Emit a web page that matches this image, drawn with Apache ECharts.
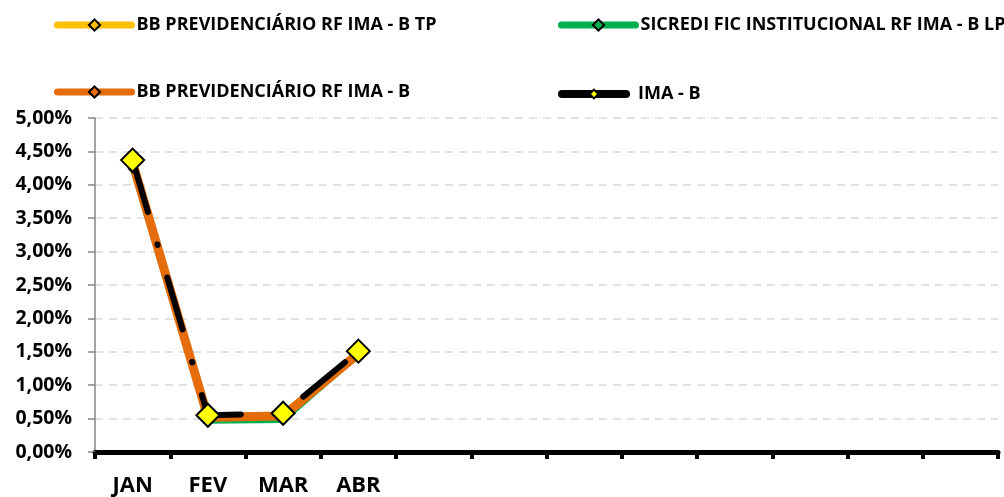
<!DOCTYPE html>
<html>
<head>
<meta charset="utf-8">
<script src="https://cdn.jsdelivr.net/npm/echarts@6/dist/echarts.min.js"></script>
<style>
html,body{margin:0;padding:0;background:#fff;}
#c{width:1004px;height:497px;}
</style>
</head>
<body>
<div id="c"></div>
<script>
var categories = ['JAN','FEV','MAR','ABR','MAI','JUN','JUL','AGO','SET','OUT','NOV','DEZ'];
var tickLabels = ['JAN','FEV','MAR','ABR','','','','','','','',''];
var bbTP = [4.35, 0.52, 0.55, 1.50];
var sicredi = [4.24, 0.46, 0.47, 1.45];
var bbIMAB = [4.33, 0.52, 0.54, 1.47];
var imaB = [4.37, 0.55, 0.58, 1.51];
var seriesNames = ['BB PREVIDENCIÁRIO RF IMA - B TP','SICREDI FIC INSTITUCIONAL RF IMA - B LP','BB PREVIDENCIÁRIO RF IMA - B','IMA - B'];

var FONT = 'Open Sans';
var chart = echarts.init(document.getElementById('c'));

function legendFor(name, left, top, w, h, lw, gap){
  return {
    data:[name], left:left, top:top, itemWidth:w, itemHeight:h, itemGap:gap,
    padding:0,
    textStyle:{fontFamily:FONT, fontWeight:'bold', fontSize:18, color:'#000', padding:[0,0,0,gap-5]},
    lineStyle:{type:'solid', cap:'round', width:lw},
    selectedMode:false
  };
}

chart.setOption({
  animation:false,
  legend:[
    legendFor(seriesNames[0], 54, 16, 74, 14, 7, 5),
    legendFor(seriesNames[1], 558, 16, 74, 14, 7, 5),
    legendFor(seriesNames[2], 54, 83, 74, 14, 7, 5),
    legendFor(seriesNames[3], 558, 85, 64, 11, 8, 12)
  ],
  grid:{left:95, right:6, top:118, bottom:45},
  xAxis:{
    type:'category', data:categories, boundaryGap:true,
    axisLine:{lineStyle:{color:'#000', width:5}},
    axisTick:{show:true, length:7, lineStyle:{color:'#000', width:4}},
    axisLabel:{interval:0, margin:23, fontFamily:FONT, fontWeight:'bold', fontSize:22, color:'#000',
      formatter:function(v, i){ return tickLabels[i]; }},
    splitLine:{show:false}
  },
  yAxis:{
    type:'value', min:0, max:5, interval:0.5,
    axisLine:{show:true, lineStyle:{color:'#868686', width:1.5}},
    axisTick:{show:true, length:7, lineStyle:{color:'#868686', width:1.5}},
    axisLabel:{margin:23, fontFamily:FONT, fontWeight:'bold', fontSize:19.5, color:'#000',
      formatter:function(v){ return v.toFixed(2).replace('.', ',') + '%'; }},
    splitLine:{show:true, lineStyle:{color:'#D9D9D9', width:1.5, type:[8,6]}}
  },
  series:[
    {name:seriesNames[0], type:'line', data:bbTP, symbol:'diamond', symbolSize:8,
      lineStyle:{color:'#FFC000', width:6, cap:'round', join:'round'},
      itemStyle:{color:'#FFC000', borderColor:'#000', borderWidth:1.5}},
    {name:seriesNames[1], type:'line', data:sicredi, symbol:'diamond', symbolSize:8,
      lineStyle:{color:'#00B050', width:5, cap:'round', join:'round'},
      itemStyle:{color:'#00B050', borderColor:'#000', borderWidth:1.5}},
    {name:seriesNames[2], type:'line', data:bbIMAB, symbol:'diamond', symbolSize:8,
      lineStyle:{color:'#E46C0A', width:9, cap:'round', join:'round'},
      itemStyle:{color:'#E46C0A', borderColor:'#000', borderWidth:1.5}},
    {name:seriesNames[3], type:'line', data:imaB, symbol:'diamond', symbolSize:23,
      lineStyle:{color:'#000', width:6, type:[54,34,0.5,34], dashOffset:0, cap:'round', join:'round'},
      itemStyle:{color:'#FFFF00', borderColor:'#000', borderWidth:2}}
  ]
});
</script>
</body>
</html>
